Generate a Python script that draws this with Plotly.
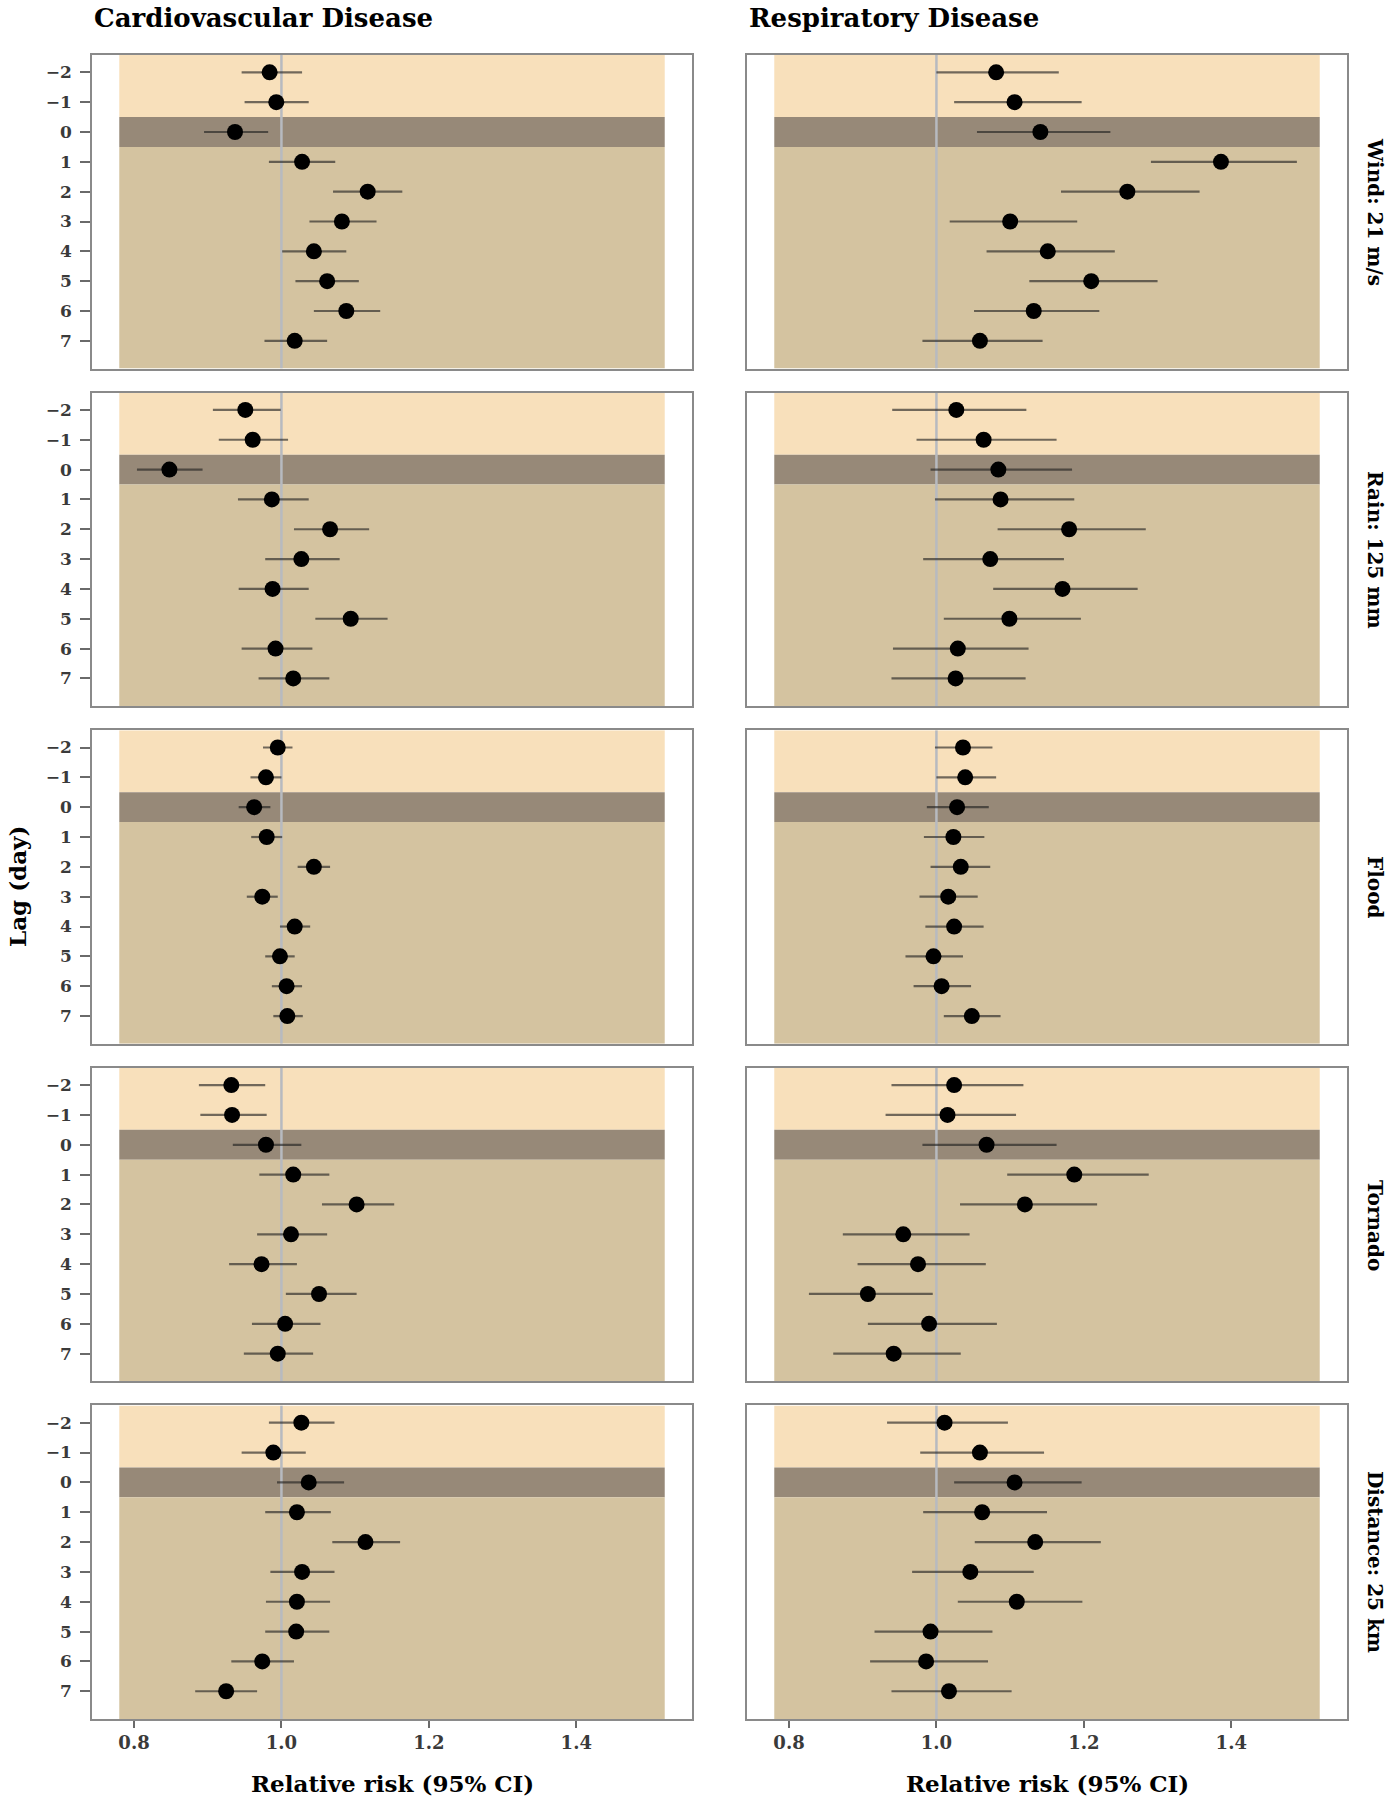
import plotly.graph_objects as go
from plotly.subplots import make_subplots

lags = [-2, -1, 0, 1, 2, 3, 4, 5, 6, 7]
diseases = ["Cardiovascular Disease", "Respiratory Disease"]
exposures = ["Wind: 21 m/s", "Rain: 125 mm", "Flood", "Tornado", "Distance: 25 km"]
x_ticks = [0.8, 1.0, 1.2, 1.4]
x_tick_labels = ["0.8", "1.0", "1.2", "1.4"]

# Cardiovascular disease: relative risk and 95% CI
cvd_wind_rr = [0.984, 0.993, 0.937, 1.028, 1.117, 1.082, 1.044, 1.062, 1.088, 1.018]
cvd_wind_lo = [0.946, 0.950, 0.895, 0.983, 1.070, 1.038, 1.001, 1.019, 1.044, 0.977]
cvd_wind_hi = [1.028, 1.037, 0.982, 1.073, 1.164, 1.129, 1.088, 1.105, 1.134, 1.062]

cvd_rain_rr = [0.951, 0.961, 0.848, 0.987, 1.066, 1.027, 0.988, 1.094, 0.992, 1.016]
cvd_rain_lo = [0.907, 0.915, 0.804, 0.941, 1.017, 0.978, 0.942, 1.046, 0.946, 0.969]
cvd_rain_hi = [0.999, 1.009, 0.893, 1.037, 1.119, 1.079, 1.037, 1.144, 1.042, 1.065]

cvd_flood_rr = [0.995, 0.979, 0.963, 0.980, 1.044, 0.974, 1.018, 0.998, 1.007, 1.008]
cvd_flood_lo = [0.975, 0.958, 0.942, 0.959, 1.022, 0.953, 0.998, 0.978, 0.987, 0.989]
cvd_flood_hi = [1.015, 1.000, 0.985, 1.001, 1.066, 0.995, 1.039, 1.018, 1.028, 1.029]

cvd_tornado_rr = [0.932, 0.933, 0.979, 1.016, 1.102, 1.013, 0.973, 1.051, 1.005, 0.995]
cvd_tornado_lo = [0.888, 0.890, 0.934, 0.970, 1.055, 0.967, 0.929, 1.006, 0.960, 0.949]
cvd_tornado_hi = [0.978, 0.980, 1.027, 1.065, 1.153, 1.062, 1.021, 1.102, 1.053, 1.043]

cvd_dist_rr = [1.027, 0.989, 1.037, 1.021, 1.114, 1.028, 1.021, 1.020, 0.974, 0.925]
cvd_dist_lo = [0.983, 0.946, 0.994, 0.978, 1.069, 0.985, 0.979, 0.978, 0.932, 0.883]
cvd_dist_hi = [1.072, 1.033, 1.085, 1.067, 1.161, 1.072, 1.066, 1.065, 1.017, 0.967]

# Respiratory disease: relative risk and 95% CI
resp_wind_rr = [1.081, 1.106, 1.141, 1.386, 1.259, 1.100, 1.151, 1.210, 1.132, 1.059]
resp_wind_lo = [1.000, 1.024, 1.055, 1.291, 1.169, 1.018, 1.068, 1.126, 1.051, 0.981]
resp_wind_hi = [1.166, 1.197, 1.236, 1.489, 1.357, 1.191, 1.242, 1.300, 1.221, 1.144]

resp_rain_rr = [1.027, 1.064, 1.084, 1.087, 1.180, 1.073, 1.171, 1.099, 1.029, 1.026]
resp_rain_lo = [0.940, 0.973, 0.992, 0.998, 1.083, 0.982, 1.077, 1.010, 0.941, 0.939]
resp_rain_hi = [1.122, 1.163, 1.184, 1.187, 1.284, 1.173, 1.273, 1.196, 1.125, 1.121]

resp_flood_rr = [1.036, 1.039, 1.028, 1.023, 1.033, 1.016, 1.024, 0.996, 1.007, 1.048]
resp_flood_lo = [0.998, 1.000, 0.987, 0.983, 0.992, 0.977, 0.985, 0.958, 0.969, 1.010]
resp_flood_hi = [1.076, 1.081, 1.071, 1.065, 1.073, 1.056, 1.064, 1.036, 1.047, 1.087]

resp_tornado_rr = [1.024, 1.015, 1.068, 1.187, 1.120, 0.955, 0.975, 0.907, 0.990, 0.942]
resp_tornado_lo = [0.939, 0.931, 0.981, 1.096, 1.032, 0.873, 0.893, 0.827, 0.907, 0.860]
resp_tornado_hi = [1.118, 1.108, 1.163, 1.288, 1.218, 1.045, 1.067, 0.995, 1.082, 1.033]

resp_dist_rr = [1.011, 1.059, 1.106, 1.062, 1.134, 1.046, 1.109, 0.992, 0.986, 1.017]
resp_dist_lo = [0.933, 0.978, 1.024, 0.982, 1.052, 0.967, 1.029, 0.916, 0.910, 0.939]
resp_dist_hi = [1.097, 1.146, 1.197, 1.150, 1.223, 1.132, 1.198, 1.076, 1.070, 1.102]

panels = [
    [(cvd_wind_rr, cvd_wind_lo, cvd_wind_hi), (resp_wind_rr, resp_wind_lo, resp_wind_hi)],
    [(cvd_rain_rr, cvd_rain_lo, cvd_rain_hi), (resp_rain_rr, resp_rain_lo, resp_rain_hi)],
    [(cvd_flood_rr, cvd_flood_lo, cvd_flood_hi), (resp_flood_rr, resp_flood_lo, resp_flood_hi)],
    [(cvd_tornado_rr, cvd_tornado_lo, cvd_tornado_hi), (resp_tornado_rr, resp_tornado_lo, resp_tornado_hi)],
    [(cvd_dist_rr, cvd_dist_lo, cvd_dist_hi), (resp_dist_rr, resp_dist_lo, resp_dist_hi)],
]

FONT = "DejaVu Serif"
W, H = 1388, 1800
ML, MR, MT, MB = 92, 41, 55, 81
PW, PH = W - ML - MR, H - MT - MB

XR = [0.743, 1.557]
YR = [7.93, -2.58]
BAND_X = [0.78, 1.52]
LIGHT, DARK, MID = "#F8E0BB", "#978978", "#D4C3A0"

fig = make_subplots(rows=5, cols=2,
                    horizontal_spacing=55 / PW,
                    vertical_spacing=24 / PH)

for r in range(5):
    for c in range(2):
        row, col = r + 1, c + 1
        rr, lo, hi = panels[r][c]
        for y0, y1, colr in [(YR[1], -0.5, LIGHT), (-0.5, 0.5, DARK), (0.5, YR[0], MID)]:
            fig.add_shape(type="rect", x0=BAND_X[0], x1=BAND_X[1], y0=y0, y1=y1,
                          fillcolor=colr, line_width=0, layer="below", row=row, col=col)
        fig.add_shape(type="line", x0=1.0, x1=1.0, y0=YR[1], y1=YR[0],
                      line=dict(color="#B7BAC0", width=2.5), layer="below", row=row, col=col)
        xs, ys = [], []
        for l, h, lag in zip(lo, hi, lags):
            xs += [l, h, None]
            ys += [lag, lag, None]
        fig.add_trace(go.Scatter(x=xs, y=ys, mode="lines",
                                 line=dict(color="rgba(30,30,30,0.62)", width=2.2),
                                 hoverinfo="skip", showlegend=False), row=row, col=col)
        fig.add_trace(go.Scatter(x=rr, y=lags, mode="markers",
                                 marker=dict(color="black", size=16, line=dict(width=0)),
                                 showlegend=False), row=row, col=col)

        fig.update_xaxes(range=XR, tickvals=x_ticks, ticktext=x_tick_labels,
                         showgrid=False, zeroline=False,
                         showline=True, mirror=True, linecolor="#8A8A8A", linewidth=1.5,
                         ticks="outside" if r == 4 else "", ticklen=7, tickwidth=1.8,
                         tickcolor="#6A6A6A",
                         showticklabels=(r == 4),
                         tickfont=dict(family=FONT, size=18, color="#3A3A3A", weight="bold"),
                         row=row, col=col)
        fig.update_yaxes(range=YR, tickvals=lags, showgrid=False, zeroline=False,
                         showline=True, mirror=True, linecolor="#8A8A8A", linewidth=1.5,
                         ticks="outside" if c == 0 else "", ticklen=10, tickwidth=2,
                         tickcolor="#6A6A6A",
                         showticklabels=(c == 0), ticklabelstandoff=5,
                         tickfont=dict(family=FONT, size=17, color="#3A3A3A", weight="bold"),
                         row=row, col=col)

annotations = []
col_left_px = [92, 747]
for name, xp in zip(diseases, col_left_px):
    annotations.append(dict(text=name, x=(xp - ML) / PW, y=(H - MB - 18) / PH,
                            xref="paper", yref="paper", xanchor="left", yanchor="middle",
                            showarrow=False,
                            font=dict(family=FONT, size=26, color="black", weight="bold")))
for xc in [(92 + 692) / 2, (747 + 1347) / 2]:
    annotations.append(dict(text="Relative risk (95% CI)", x=(xc - ML) / PW,
                            y=(H - MB - 1783) / PH, xref="paper", yref="paper",
                            xanchor="center", yanchor="middle", showarrow=False,
                            font=dict(family=FONT, size=23, color="black", weight="bold")))
annotations.append(dict(text="Lag (day)", x=(17 - ML) / PW, y=(H - MB - 887) / PH,
                        xref="paper", yref="paper", xanchor="center", yanchor="middle",
                        textangle=-90, showarrow=False,
                        font=dict(family=FONT, size=23, color="black", weight="bold")))
row_centers = [(55 + 369) / 2, (393 + 707) / 2, (731 + 1043) / 2, (1068 + 1382) / 2, (1405 + 1719) / 2]
for lab, yc in zip(exposures, row_centers):
    annotations.append(dict(text=lab, x=(1375 - ML) / PW, y=(H - MB - yc) / PH,
                            xref="paper", yref="paper", xanchor="center", yanchor="middle",
                            textangle=90, showarrow=False,
                            font=dict(family=FONT, size=20, color="black", weight="bold")))

fig.update_layout(width=W, height=H,
                  margin=dict(l=ML, r=MR, t=MT, b=MB),
                  paper_bgcolor="white", plot_bgcolor="white",
                  annotations=annotations, showlegend=False)

fig.write_html("out.html", config={"displayModeBar": False},
               post_script="document.body.style.margin='0px';document.body.style.padding='0px';")
